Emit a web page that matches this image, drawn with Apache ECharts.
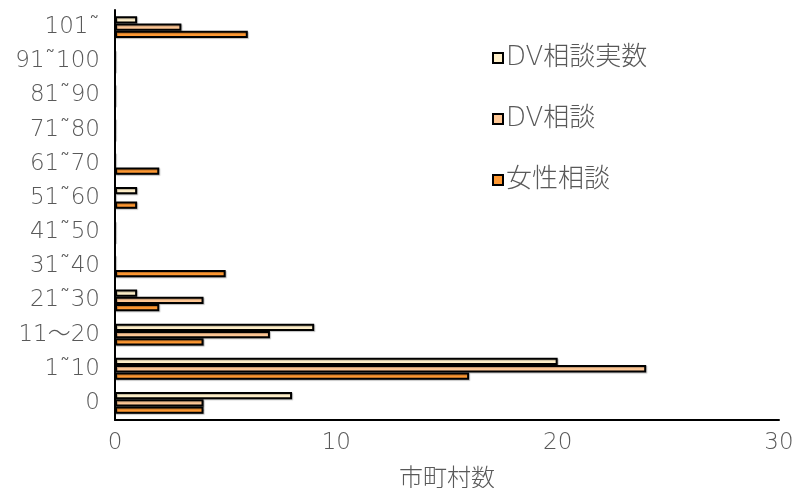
<!DOCTYPE html>
<html>
<head>
<meta charset="utf-8">
<script src="https://cdn.jsdelivr.net/npm/echarts@6/dist/echarts.min.js"></script>
<style>
  html, body { margin: 0; padding: 0; background: #fff; }
  #chart { width: 798px; height: 488px; }
</style>
</head>
<body>
<div id="chart"></div>
<script>
// categories bottom -> top
const categories = ['0', '1˜10', '11～20', '21˜30', '31˜40', '41˜50', '51˜60', '61˜70', '71˜80', '81˜90', '91˜100', '101˜']
const womenCounts = [4, 16, 4, 2, 5, 0, 1, 2, 0, 0, 0, 6]
const dvCounts = [4, 24, 7, 4, 0, 0, 0, 0, 0, 0, 0, 3]
const dvActualCounts = [8, 20, 9, 1, 0, 0, 1, 0, 0, 0, 0, 1]
const xTicks = [0, 10, 20, 30]

const font = '"DejaVu Sans", "Noto Sans CJK JP", sans-serif'
const textColor = '#595959'

function barSeries(name, data, color) {
  return {
    name: name,
    type: 'bar',
    data: data,
    barGap: '0%',
    barCategoryGap: '36%',
    itemStyle: {
      color: color,
      borderColor: '#000',
      borderWidth: 2,
      shadowColor: 'rgba(0,0,0,0.25)',
      shadowOffsetX: 1,
      shadowOffsetY: 1,
      shadowBlur: 1
    }
  }
}

const chart = echarts.init(document.getElementById('chart'))
chart.setOption({
  animation: false,
  textStyle: { fontFamily: font },
  grid: { left: 115, right: 19, top: 10, bottom: 68, containLabel: false, outerBoundsMode: 'none' },
  legend: {
    orient: 'vertical',
    left: 487,
    top: 40,
    itemGap: 35,
    itemWidth: 10,
    itemHeight: 10,
    icon: 'rect',
    data: ['DV相談実数', 'DV相談', '女性相談'],
    textStyle: { fontSize: 26, lineHeight: 26, fontWeight: 200, color: textColor, fontFamily: font, padding: [0, 0, 0, -2] }
  },
  xAxis: {
    type: 'value',
    min: xTicks[0],
    max: xTicks[xTicks.length - 1],
    interval: 10,
    name: '市町村数',
    nameLocation: 'middle',
    nameGap: 48,
    nameTextStyle: { fontSize: 24, fontWeight: 200, color: textColor, fontFamily: font },
    axisLine: { show: true, lineStyle: { color: '#000', width: 2 } },
    axisTick: { show: false },
    splitLine: { show: false },
    axisLabel: { fontSize: 23, fontWeight: 200, color: textColor, margin: 12, fontFamily: font }
  },
  yAxis: {
    type: 'category',
    data: categories,
    axisLine: { show: true, lineStyle: { color: '#000', width: 2 } },
    axisTick: { show: false },
    axisLabel: { fontSize: 23, fontWeight: 200, color: textColor, margin: 15, fontFamily: font }
  },
  series: [
    barSeries('DV相談実数', dvActualCounts, '#FFF0CA'),
    barSeries('DV相談', dvCounts, '#FFC896'),
    barSeries('女性相談', womenCounts, '#FF9933')
  ]
})
</script>
</body>
</html>
